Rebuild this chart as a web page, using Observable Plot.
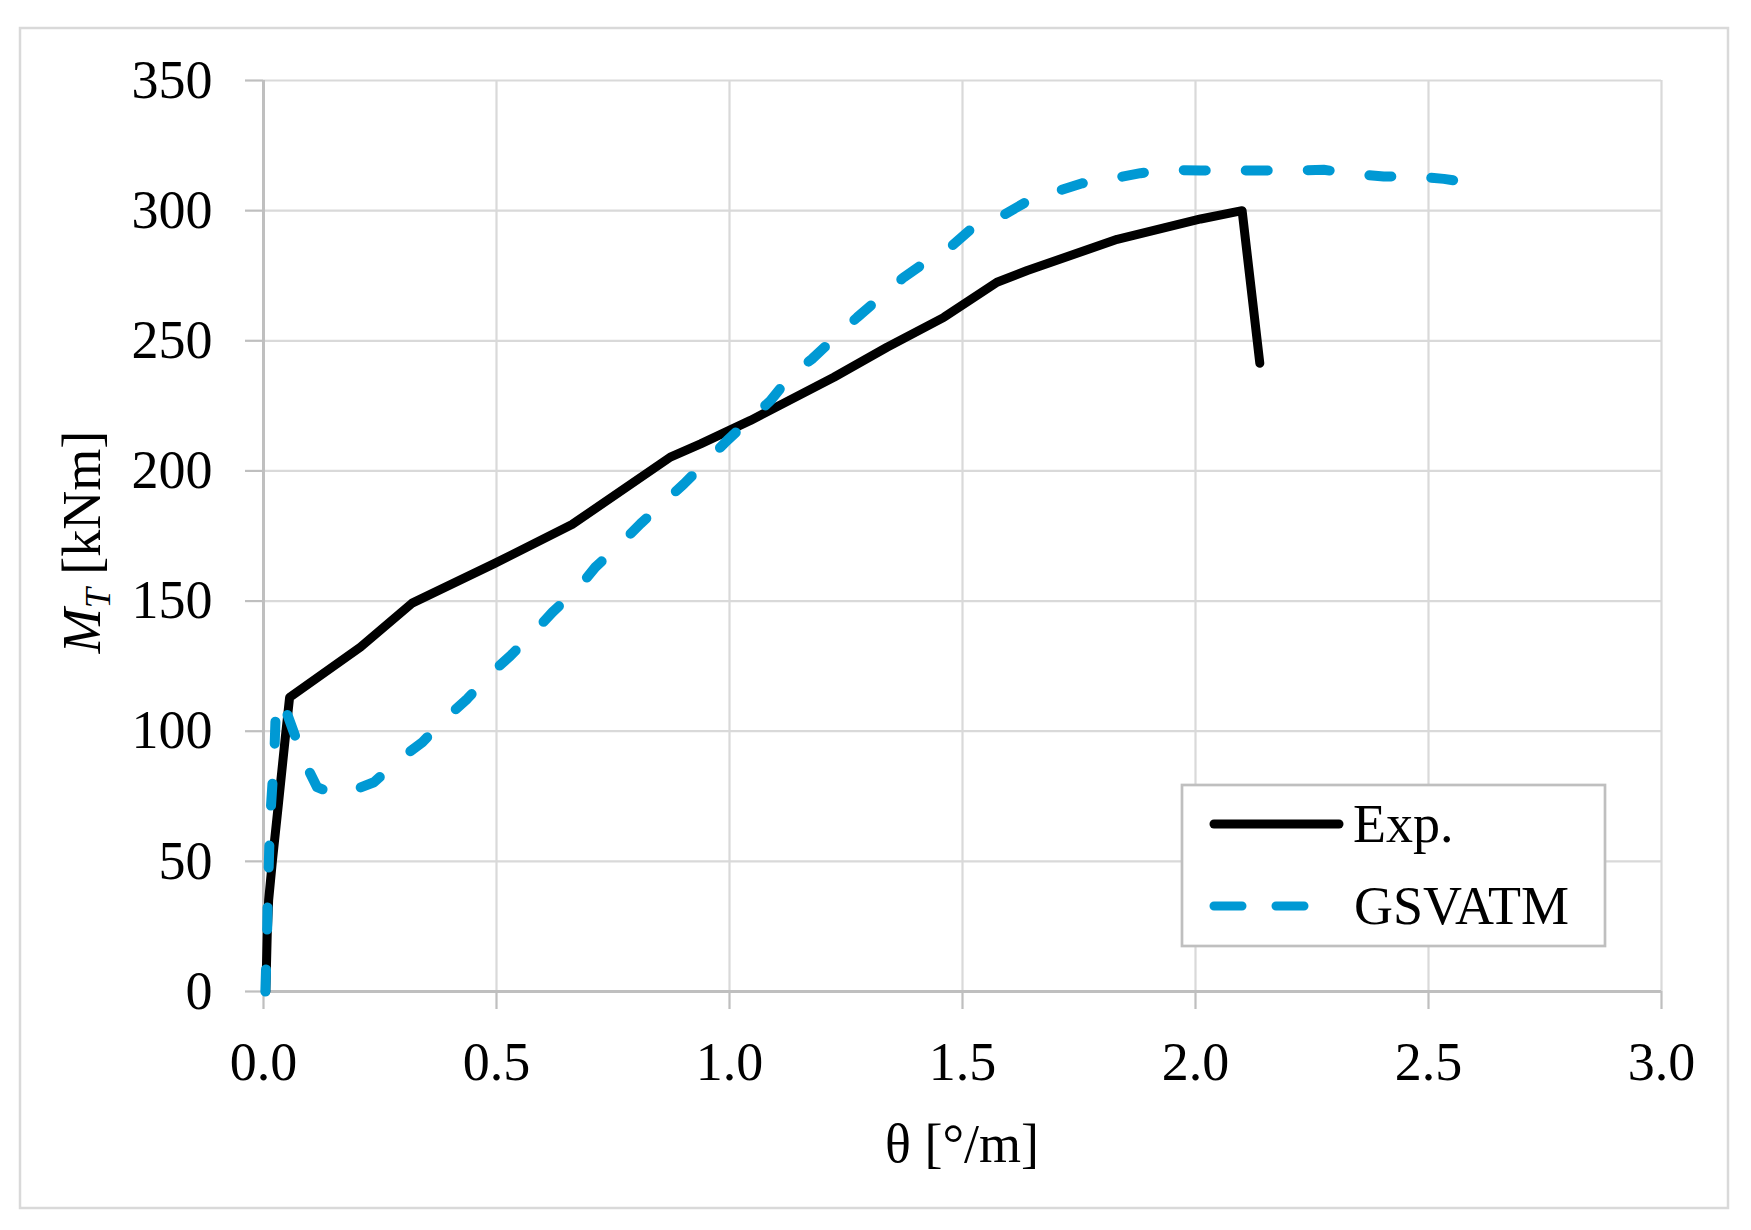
<!DOCTYPE html>
<html>
<head>
<meta charset="utf-8">
<script src="https://cdn.jsdelivr.net/npm/d3@7"></script>
<script src="https://cdn.jsdelivr.net/npm/@observablehq/plot@0.6"></script>
<style>
  html, body { margin: 0; padding: 0; background: white; }
  #chart { width: 1751px; height: 1230px; }
</style>
</head>
<body>
<div id="chart"></div>
<script>
// ---- data ----
const seriesNames = ["Exp.", "GSVATM"];
const xTicks = [0, 0.5, 1.0, 1.5, 2.0, 2.5, 3.0];
const yTicks = [0, 50, 100, 150, 200, 250, 300, 350];

const expTheta = [0.005, 0.008, 0.011, 0.019, 0.032, 0.047, 0.056, 0.208, 0.319, 0.494, 0.662, 0.873, 0.938, 1.045, 1.224, 1.338, 1.460, 1.574, 1.639, 1.832, 2.011, 2.100, 2.138];
const expM     = [0, 22, 35, 50, 72, 98, 113, 132.3, 149.2, 164.3, 179.4, 205.3, 210.4, 219.4, 236, 247.5, 259, 272.5, 277, 289, 296.8, 300, 241.4];

const gsvTheta = [0.004, 0.006, 0.008, 0.009, 0.011, 0.013, 0.016, 0.020, 0.024, 0.026, 0.032, 0.044, 0.065, 0.090, 0.115, 0.150, 0.183, 0.237, 0.294, 0.341, 0.390, 0.437, 0.487, 0.530, 0.580, 0.620, 0.677, 0.712, 0.766, 0.809, 0.863, 0.902, 0.956, 0.995, 1.045, 1.088, 1.131, 1.177, 1.231, 1.274, 1.328, 1.374, 1.431, 1.478, 1.531, 1.585, 1.642, 1.694, 1.757, 1.818, 1.882, 1.943, 2.011, 2.079, 2.143, 2.211, 2.275, 2.340, 2.404, 2.472, 2.533, 2.600];
const gsvM     = [0, 12, 25, 35, 47, 59, 71, 82, 95, 106, 112, 110, 99.6, 87.5, 78.5, 76, 76.6, 80.4, 89.4, 95.8, 104.8, 112.4, 122, 129, 138, 145.7, 155.3, 163, 172, 179.7, 188.6, 195, 204.6, 211.7, 220, 227, 236.6, 243, 252, 259, 267.4, 274.4, 281.5, 286.6, 294.9, 298, 303.9, 307, 310.5, 312.2, 314.4, 315.7, 315.4, 315.4, 315.4, 315.4, 315.7, 314.1, 313.1, 313.1, 312.2, 310.5];

const expData = expTheta.map((t, i) => ({theta: t, m: expM[i]}));
const gsvData = gsvTheta.map((t, i) => ({theta: t, m: gsvM[i]}));

// ---- style ----
const FONT = "'Liberation Serif', 'Times New Roman', serif";
const FS = 54;
const BLUE = "#0099d4";
const GRID = "#d9d9d9";
const AXIS = "#bfbfbf";

const chart = Plot.plot({
  width: 1751,
  height: 1230,
  marginLeft: 263,
  marginRight: 90,
  marginTop: 80,
  marginBottom: 239,
  style: {fontFamily: FONT, fontSize: FS + "px", background: "white", color: "black", overflow: "visible"},
  x: {domain: [0, 3]},
  y: {domain: [0, 350]},
  marks: [
    Plot.gridX(xTicks.filter(d => d !== 0), {stroke: GRID, strokeOpacity: 1, strokeWidth: 2.2}),
    Plot.gridY(yTicks.filter(d => d !== 0), {stroke: GRID, strokeOpacity: 1, strokeWidth: 2.2}),
    Plot.axisX(xTicks, {tickSize: 18, tickPadding: 32, tickFormat: d => d.toFixed(1), stroke: AXIS, strokeWidth: 2.2, fill: "black", fontSize: FS, label: null}),
    Plot.axisY(yTicks, {tickSize: 18, tickPadding: 33, tickFormat: d => String(d), stroke: AXIS, strokeWidth: 2.2, fill: "black", fontSize: FS, label: null}),
    Plot.ruleY([0], {stroke: AXIS, strokeWidth: 3}),
    Plot.ruleX([0], {stroke: AXIS, strokeWidth: 3}),
    Plot.line(expData, {x: "theta", y: "m", stroke: "black", strokeWidth: 9, strokeLinejoin: "round", strokeLinecap: "round"}),
    Plot.line(gsvData, {x: "theta", y: "m", stroke: BLUE, strokeWidth: 10, strokeDasharray: "22,40", strokeLinejoin: "round", strokeLinecap: "round"})
  ]
});

document.getElementById("chart").appendChild(chart);
const svg = d3.select(chart);

// outer chart border
svg.insert("rect", ":first-child")
  .attr("x", 20).attr("y", 28).attr("width", 1708).attr("height", 1180)
  .attr("fill", "white").attr("stroke", GRID).attr("stroke-width", 2.5);

// x axis title
svg.append("text")
  .attr("x", 962).attr("y", 1162)
  .attr("text-anchor", "middle")
  .attr("font-family", FONT).attr("font-size", FS).attr("fill", "black")
  .text("θ [°/m]");

// y axis title with italic M and subscript T
const yt = svg.append("text")
  .attr("transform", "translate(100,542) rotate(-90)")
  .attr("text-anchor", "middle")
  .attr("font-family", FONT).attr("font-size", FS).attr("fill", "black");
yt.append("tspan").attr("font-style", "italic").text("M");
yt.append("tspan").attr("font-style", "italic").attr("font-size", 36).attr("dy", 10).text("T");
yt.append("tspan").attr("dy", -10).text(" [kNm]");

// legend
const lg = svg.append("g");
lg.append("rect")
  .attr("x", 1182).attr("y", 785).attr("width", 423).attr("height", 161)
  .attr("fill", "white").attr("stroke", AXIS).attr("stroke-width", 2.7);
lg.append("line")
  .attr("x1", 1214).attr("x2", 1339).attr("y1", 824).attr("y2", 824)
  .attr("stroke", "black").attr("stroke-width", 9).attr("stroke-linecap", "round");
lg.append("line")
  .attr("x1", 1214).attr("x2", 1304).attr("y1", 906).attr("y2", 906)
  .attr("stroke", BLUE).attr("stroke-width", 9).attr("stroke-linecap", "round")
  .attr("stroke-dasharray", "28,34");
lg.append("text")
  .attr("x", 1353).attr("y", 842)
  .attr("text-anchor", "start")
  .attr("font-family", FONT).attr("font-size", FS).attr("fill", "black")
  .text(seriesNames[0]);
lg.append("text")
  .attr("x", 1354).attr("y", 924)
  .attr("text-anchor", "start")
  .attr("font-family", FONT).attr("font-size", FS).attr("fill", "black")
  .text(seriesNames[1]);
</script>
</body>
</html>
